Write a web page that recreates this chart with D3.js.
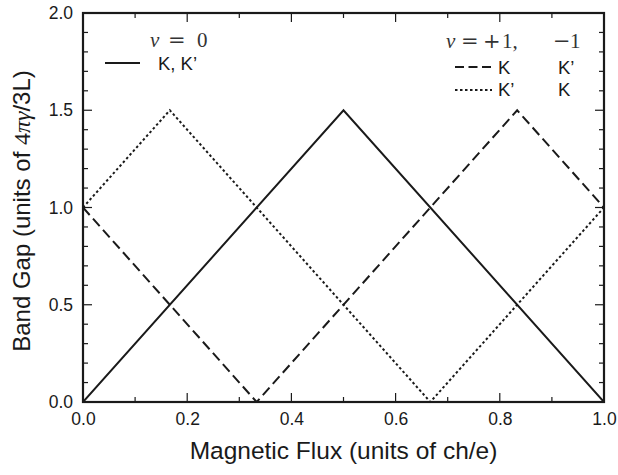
<!DOCTYPE html>
<html><head><meta charset="utf-8">
<script src="https://cdn.jsdelivr.net/npm/d3@7"></script>
<style>body{margin:0;background:#fff}svg{display:block}</style>
</head><body>
<script>
// Data
const fluxSolid = [0, 0.5, 1];
const gapSolid = [0, 1.5, 0];
const fluxDashed = [0, 1/3, 5/6, 1];
const gapDashed = [1, 0, 1.5, 1];
const fluxDotted = [0, 1/6, 2/3, 1];
const gapDotted = [1, 1.5, 0, 1];
const xTickLabels = [0, 0.2, 0.4, 0.6, 0.8, 1.0];
const yTickLabels = [0, 0.5, 1.0, 1.5, 2.0];

const W = 618, H = 475;
const m = {left: 83, right: 604, top: 13, bottom: 402};
const svg = d3.select("body").append("svg").attr("width", W).attr("height", H);
const x = d3.scaleLinear().domain([0, 1]).range([m.left, m.right]);
const y = d3.scaleLinear().domain([0, 2]).range([m.bottom, m.top]);
const sans = "'Liberation Sans', Arial, Helvetica, sans-serif";
const serif = "'Liberation Serif', 'DejaVu Serif', serif";
const opFont = "'DejaVu Serif', serif";
const col = "#1a1a1a";

const g = svg.append("g");
const xMinor = d3.range(0, 1.0001, 0.1);
const yMinor = d3.range(0, 2.0001, 0.1);
function isMajor(v, step) { return Math.abs(v / step - Math.round(v / step)) < 1e-6; }
xMinor.forEach(v => {
  const L = isMajor(v, 0.2) ? 9 : 5;
  g.append("line").attr("x1", x(v)).attr("x2", x(v)).attr("y1", m.bottom).attr("y2", m.bottom - L).attr("stroke", col).attr("stroke-width", 1.2);
  g.append("line").attr("x1", x(v)).attr("x2", x(v)).attr("y1", m.top).attr("y2", m.top + L).attr("stroke", col).attr("stroke-width", 1.2);
});
yMinor.forEach(v => {
  const L = isMajor(v, 0.5) ? 9 : 5;
  g.append("line").attr("y1", y(v)).attr("y2", y(v)).attr("x1", m.left).attr("x2", m.left + L).attr("stroke", col).attr("stroke-width", 1.2);
  g.append("line").attr("y1", y(v)).attr("y2", y(v)).attr("x1", m.right).attr("x2", m.right - L).attr("stroke", col).attr("stroke-width", 1.2);
});
const xa = d3.axisBottom(x).tickValues(xTickLabels).tickFormat(d3.format(".1f")).tickSize(0).tickPadding(11);
const gx = svg.append("g").attr("transform", `translate(0,${m.bottom})`).call(xa);
gx.select(".domain").remove();
gx.selectAll("text").attr("font-family", sans).attr("font-size", 17.5).attr("fill", col);
const ya = d3.axisLeft(y).tickValues(yTickLabels).tickFormat(d3.format(".1f")).tickSize(0).tickPadding(10);
const gy = svg.append("g").attr("transform", `translate(${m.left},0)`).call(ya);
gy.select(".domain").remove();
gy.selectAll("text").attr("font-family", sans).attr("font-size", 17.5).attr("fill", col);

const line = d3.line().x(d => x(d[0])).y(d => y(d[1]));
svg.append("clipPath").attr("id", "c").append("rect").attr("x", m.left).attr("y", m.top).attr("width", m.right - m.left).attr("height", m.bottom - m.top);
function draw(xs, ys, dash) {
  svg.append("path").datum(xs.map((v, i) => [v, ys[i]])).attr("d", line)
    .attr("fill", "none").attr("stroke", col).attr("stroke-width", 2)
    .attr("stroke-dasharray", dash).attr("clip-path", "url(#c)");
}
draw(fluxSolid, gapSolid, null);
draw(fluxDashed, gapDashed, "10,5");
draw(fluxDotted, gapDotted, "2.5,2.5");

svg.append("rect").attr("x", m.left).attr("y", m.top).attr("width", m.right - m.left).attr("height", m.bottom - m.top)
  .attr("fill", "none").attr("stroke", col).attr("stroke-width", 2.2);

function piece(xp, yp, txt, italic, font) {
  svg.append("text").attr("x", xp).attr("y", yp).attr("font-family", font || serif).attr("font-size", 21)
    .attr("font-style", italic ? "italic" : "normal").attr("fill", "#333").text(txt);
}
piece(150, 47, "ν", true); piece(168, 47, "=", false, opFont); piece(197, 47, "0", false);
piece(446, 48, "ν", true); piece(461, 48, "=", false, opFont); piece(483, 48, "+", false, opFont);
piece(502, 48, "1,", false);
piece(553, 48, "\u2212", false, opFont); piece(570, 48, "1", false);

svg.append("line").attr("x1", 105).attr("x2", 140).attr("y1", 63).attr("y2", 63).attr("stroke", col).attr("stroke-width", 2);
svg.append("text").attr("x", 158).attr("y", 70).attr("font-family", sans).attr("font-size", 18.5).attr("fill", col).text("K, K\u2019");

svg.append("line").attr("x1", 455).attr("x2", 492).attr("y1", 67).attr("y2", 67).attr("stroke", col).attr("stroke-width", 2).attr("stroke-dasharray", "9,4.5");
svg.append("line").attr("x1", 455).attr("x2", 492).attr("y1", 90).attr("y2", 90).attr("stroke", col).attr("stroke-width", 2).attr("stroke-dasharray", "2.5,2.5");
[["K", "K\u2019", 74], ["K\u2019", "K", 96]].forEach(r => {
  svg.append("text").attr("x", 498).attr("y", r[2]).attr("font-family", sans).attr("font-size", 18.5).attr("fill", col).text(r[0]);
  svg.append("text").attr("x", 558).attr("y", r[2]).attr("font-family", sans).attr("font-size", 18.5).attr("fill", col).text(r[1]);
});

svg.append("text").attr("x", (m.left + m.right) / 2).attr("y", 459).attr("text-anchor", "middle")
  .attr("font-family", sans).attr("font-size", 24.5).attr("fill", col).text("Magnetic Flux (units of ch/e)");
const yl = svg.append("text").attr("transform", `translate(30,211) rotate(-90)`).attr("text-anchor", "middle")
  .attr("font-family", sans).attr("font-size", 24).attr("fill", col);
yl.append("tspan").text("Band Gap (units of ");
yl.append("tspan").attr("font-family", serif).text("4");
yl.append("tspan").attr("font-family", serif).attr("font-style", "italic").text("πγ");
yl.append("tspan").text("/3L)");
</script>
</body></html>
